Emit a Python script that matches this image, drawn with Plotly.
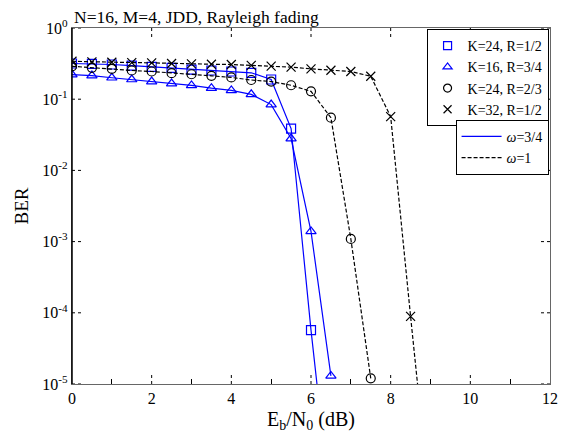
import plotly.graph_objects as go

# ---------------- data ----------------
snr_sq = [0, 0.5, 1, 1.5, 2, 2.5, 3, 3.5, 4, 4.5, 5, 5.5, 6, 6.5]
ber_sq = [0.317, 0.314, 0.307, 0.297, 0.285, 0.276, 0.261, 0.253, 0.245, 0.235, 0.189, 0.0387, 5.7e-5, 1.7e-7]

snr_tri = [0, 0.5, 1, 1.5, 2, 2.5, 3, 3.5, 4, 4.5, 5, 5.5, 6, 6.5]
ber_tri = [0.222, 0.215, 0.2, 0.189, 0.177, 0.166, 0.156, 0.143, 0.133, 0.117, 0.084, 0.028, 1.39e-3, 1.3e-5]

snr_circ = [0, 0.5, 1, 1.5, 2, 2.5, 3, 3.5, 4, 4.5, 5, 5.5, 6, 6.5, 7, 7.5]
ber_circ = [0.29, 0.276, 0.267, 0.253, 0.245, 0.232, 0.224, 0.213, 0.202, 0.186, 0.177, 0.157, 0.129, 0.055, 1.09e-3, 1.2e-5]

snr_x = [0, 0.5, 1, 1.5, 2, 2.5, 3, 3.5, 4, 4.5, 5, 5.5, 6, 6.5, 7, 7.5, 8, 8.5, 9]
ber_x = [0.341, 0.334, 0.330, 0.327, 0.324, 0.317, 0.314, 0.310, 0.307, 0.298, 0.292, 0.282, 0.267, 0.255, 0.245, 0.21, 0.057, 8.9e-5, 1.7e-7]

labels = ["K=24, R=1/2", "K=16, R=3/4", "K=24, R=2/3", "K=32, R=1/2"]
omega_labels = ["<i>\u03c9</i>=3/4", "<i>\u03c9</i>=1"]

x_ticks = [0, 2, 4, 6, 8, 10, 12]
x_minor = [1, 3, 5, 7, 9, 11]
y_exps = [0, -1, -2, -3, -4, -5]

BLUE = "#0000FF"
BLACK = "#000000"
FONT = "Liberation Serif, Times New Roman, serif"

fig = go.Figure()

series = [
    (snr_sq, ber_sq, BLUE, "solid", "square-open"),
    (snr_tri, ber_tri, BLUE, "solid", "triangle-up-open"),
    (snr_circ, ber_circ, BLACK, "4px,2px", "circle-open"),
    (snr_x, ber_x, BLACK, "4px,2px", "x-thin-open"),
]
for xs, ys, col, dash, sym in series:
    fig.add_trace(go.Scatter(
        x=xs, y=ys, mode="lines+markers", showlegend=False,
        line=dict(color=col, width=1.2, dash=dash),
        marker=dict(symbol=sym, size=9, color=col, line=dict(width=1.2, color=col)),
    ))

# legend 1: markers only
for (xs, ys, col, dash, sym), lab in zip(series, labels):
    fig.add_trace(go.Scatter(
        x=[None], y=[None], mode="markers", name=lab, legend="legend",
        marker=dict(symbol=sym, size=8, color=col, line=dict(width=1.2, color=col)),
    ))
# legend 2: lines only
for col, dash, lab in [(BLUE, "solid", omega_labels[0]), (BLACK, "4px,2px", omega_labels[1])]:
    fig.add_trace(go.Scatter(
        x=[None], y=[None], mode="lines", name=lab, legend="legend2",
        line=dict(color=col, width=1.2, dash=dash),
    ))

# dotted major ticks (MATLAB-style)
shapes = []
for xv in x_ticks[1:-1]:
    shapes.append(dict(type="line", xref="x", yref="paper", x0=xv, x1=xv, y0=0, y1=0.028,
                       line=dict(color=BLACK, width=1, dash="dot")))
    shapes.append(dict(type="line", xref="x", yref="paper", x0=xv, x1=xv, y0=1, y1=0.972,
                       line=dict(color=BLACK, width=1, dash="dot")))
for e in y_exps:
    yv = 10 ** e
    shapes.append(dict(type="line", xref="paper", yref="y", x0=0, x1=0.022, y0=yv, y1=yv,
                       line=dict(color=BLACK, width=1, dash="dot")))
    shapes.append(dict(type="line", xref="paper", yref="y", x0=1, x1=0.978, y0=yv, y1=yv,
                       line=dict(color=BLACK, width=1, dash="dot")))
# black left axis line
shapes.append(dict(type="line", xref="paper", yref="paper", x0=0, x1=0, y0=0, y1=1,
                   line=dict(color=BLACK, width=1.5)))
fig.update_layout(shapes=shapes)

fig.update_layout(
    width=570, height=438,
    margin=dict(l=72, r=18, t=28, b=52),
    paper_bgcolor="white", plot_bgcolor="white",
    font=dict(family=FONT, size=15, color=BLACK),
    xaxis=dict(
        range=[0, 12], tickvals=x_ticks, ticktext=[str(v) for v in x_ticks],
        ticks="", showgrid=False, zeroline=False,
        showline=True, mirror=True, linecolor="#666666", linewidth=1.2,
        minor=dict(ticks="inside", tickvals=x_minor, ticklen=5, tickcolor=BLACK, showgrid=False),
        title=dict(text="E<sub>b</sub>/N<sub>0</sub> (dB)", font=dict(family=FONT, size=20), standoff=5),
        tickfont=dict(family=FONT, size=16),
    ),
    yaxis=dict(
        type="log", range=[-5, 0],
        tickvals=[10 ** e for e in y_exps],
        ticktext=["10<sup>%d</sup>" % e for e in y_exps],
        ticks="", showgrid=False, zeroline=False,
        showline=True, mirror=True, linecolor="#666666", linewidth=1.2,
        title=dict(text="BER", font=dict(family=FONT, size=19), standoff=8),
        tickfont=dict(family=FONT, size=16),
    ),
    legend=dict(
        x=0.997, y=0.997, xanchor="right", yanchor="top",
        bgcolor="white", bordercolor=BLACK, borderwidth=1,
        font=dict(family=FONT, size=14), itemwidth=30, tracegroupgap=0,
    ),
    legend2=dict(
        x=0.997, y=0.742, xanchor="right", yanchor="top",
        bgcolor="white", bordercolor=BLACK, borderwidth=1,
        font=dict(family=FONT, size=14), itemwidth=40, tracegroupgap=0,
    ),
    annotations=[dict(
        text="N=16, M=4, JDD, Rayleigh fading", xref="paper", yref="paper",
        x=0, y=1, xanchor="left", yanchor="bottom", yshift=-1, showarrow=False,
        font=dict(family=FONT, size=17.5),
    )],
)

fig.write_html("out.html")
